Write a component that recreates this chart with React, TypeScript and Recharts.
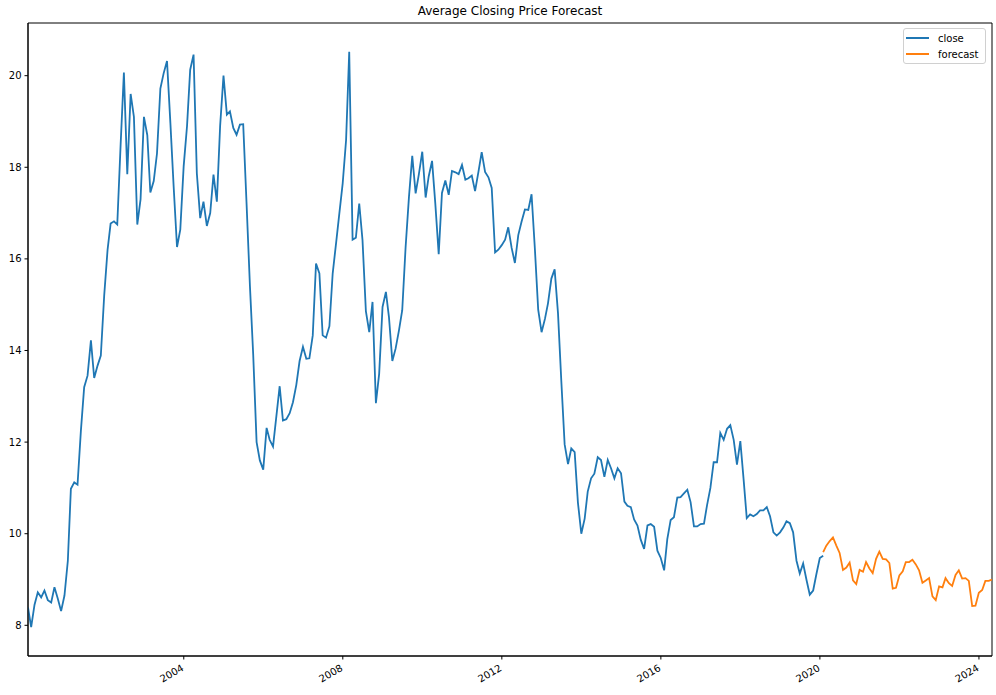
import React from "react";
import {
  LineChart,
  Line,
  XAxis,
  YAxis,
  ReferenceArea,
} from "recharts";

// monthly averages, first point is Jan 2000 (month end)
const START_YEAR = 2000;

const closeValues = [
  8.39, 7.96, 8.45, 8.72, 8.61, 8.76, 8.55, 8.5, 8.83, 8.58, 8.31, 8.65,
  9.41, 10.98, 11.12, 11.07, 12.25, 13.2, 13.45, 14.22, 13.4, 13.67, 13.89, 15.2,
  16.2, 16.77, 16.82, 16.75, 18.5, 20.07, 17.85, 19.6, 19.1, 16.75, 17.3, 19.1,
  18.7, 17.45, 17.7, 18.3, 19.72, 20.05, 20.32, 18.97, 17.58, 16.26, 16.64, 18.02,
  18.9, 20.13, 20.46, 17.87, 16.89, 17.25, 16.72, 17.0, 17.84, 17.25, 18.9, 20.0,
  19.15, 19.22, 18.86, 18.71, 18.93, 18.94, 17.2, 15.4, 13.9, 12.0, 11.6, 11.4,
  12.31, 12.05, 11.9, 12.55, 13.22, 12.47, 12.5, 12.63, 12.87, 13.25, 13.77, 14.08,
  13.82, 13.83, 14.33, 15.9, 15.68, 14.33, 14.28, 14.53, 15.68, 16.34, 16.99, 17.65,
  18.59, 20.52, 16.42, 16.46, 17.21, 16.41, 14.86, 14.4, 15.06, 12.85, 13.49, 14.95,
  15.28, 14.73, 13.77, 14.04, 14.44, 14.88, 16.26, 17.36, 18.25, 17.43, 17.85, 18.34,
  17.34, 17.8, 18.14, 17.2, 16.1, 17.44, 17.71, 17.4, 17.92, 17.89, 17.85, 18.05,
  17.73, 17.76, 17.82, 17.48, 17.9, 18.33, 17.9, 17.78, 17.55, 16.14, 16.2, 16.3,
  16.42, 16.69, 16.24, 15.91, 16.52, 16.81, 17.08, 17.07, 17.41, 16.2, 14.89, 14.4,
  14.69, 15.03, 15.57, 15.77, 14.81, 13.35, 11.95, 11.52, 11.86, 11.78, 10.68, 10.0,
  10.33, 10.92, 11.21, 11.31, 11.67, 11.61, 11.24, 11.61, 11.43, 11.21, 11.43, 11.32,
  10.7, 10.61, 10.58, 10.31, 10.18, 9.87, 9.67, 10.18, 10.21, 10.15, 9.63, 9.47,
  9.2, 9.88, 10.3, 10.36, 10.79, 10.8, 10.88, 10.96, 10.69, 10.16, 10.16, 10.21,
  10.22, 10.62, 11.0, 11.56, 11.56, 12.2, 12.05, 12.29, 12.37, 12.05, 11.51, 12.02,
  11.16, 10.34, 10.42, 10.38, 10.43, 10.51, 10.51, 10.58, 10.38, 10.03, 9.96, 10.03,
  10.14, 10.27, 10.23, 10.03, 9.41, 9.13, 9.35, 8.99, 8.67, 8.76, 9.12, 9.47,
  9.52,
];

// forecast starts at the last close month (Jan 2020)
const forecastValues = [
  9.6, 9.74, 9.84, 9.92, 9.74, 9.58, 9.21, 9.26, 9.37, 8.98, 8.9, 9.21,
  9.17, 9.38, 9.24, 9.14, 9.45, 9.61, 9.45, 9.44, 9.36, 8.8, 8.82, 9.09,
  9.18, 9.38, 9.38, 9.43, 9.33, 9.2, 8.93, 8.98, 9.03, 8.63, 8.55, 8.85,
  8.83, 9.03, 8.92, 8.86, 9.1, 9.2, 9.02, 9.03, 8.97, 8.42, 8.43, 8.71,
  8.77, 8.97, 8.97, 9.0,
];

const tickYears = [2004, 2008, 2012, 2016, 2020, 2024];
const yTicks = [8, 10, 12, 14, 16, 18, 20];

const monthEnd = (i: number) => Date.UTC(START_YEAR, i + 1, 0);
const forecastOffset = closeValues.length - 1;
const total = forecastOffset + forecastValues.length;

const data: { t: number; close?: number; forecast?: number }[] = [];
for (let i = 0; i < total; i++) {
  const row: { t: number; close?: number; forecast?: number } = { t: monthEnd(i) };
  if (i < closeValues.length) row.close = closeValues[i];
  if (i >= forecastOffset) row.forecast = forecastValues[i - forecastOffset];
  data.push(row);
}

const xMin = monthEnd(0);
const xMax = monthEnd(total - 1);
const xTicks = tickYears.map((y) => Date.UTC(y, 0, 1));
const yDomain: [number, number] = [7.33, 21.15];

const FONT = "DejaVu Sans, sans-serif";

function XTick(props: any) {
  const { x, y, payload } = props;
  const year = new Date(payload.value).getUTCFullYear();
  return (
    <g transform={`translate(${x - 3},${y + 1}) rotate(-30)`}>
      <text
        x={0}
        y={0}
        dy="0.75em"
        textAnchor="end"
        fontSize={10}
        fontFamily={FONT}
        fill="#000"
      >
        {year}
      </text>
    </g>
  );
}

function YTick(props: any) {
  const { x, y, payload } = props;
  return (
    <text
      x={x}
      y={y}
      dy="0.36em"
      textAnchor="end"
      fontSize={10}
      fontFamily={FONT}
      fill="#000"
    >
      {payload.value}
    </text>
  );
}

export default function App() {
  return (
    <div
      style={{
        position: "absolute",
        left: 0,
        top: 0,
        width: 996,
        height: 695,
        background: "#fff",
        fontFamily: FONT,
      }}
    >
      <div
        style={{
          position: "absolute",
          left: 28,
          top: 4,
          width: 964,
          textAlign: "center",
          fontSize: 12,
          lineHeight: "14px",
          color: "#000",
        }}
      >
        Average Closing Price Forecast
      </div>
      <LineChart
        width={996}
        height={695}
        data={data}
        margin={{ top: 23, right: 4, left: 0, bottom: 0 }}
      >
        <XAxis
          dataKey="t"
          type="number"
          scale="time"
          domain={[xMin, xMax]}
          ticks={xTicks}
          allowDataOverflow
          height={39}
          stroke="#000"
          tickSize={3.5}
          tickMargin={3}
          tick={<XTick />}
          interval={0}
        />
        <YAxis
          type="number"
          domain={yDomain}
          ticks={yTicks}
          allowDataOverflow
          width={28}
          stroke="#000"
          tickSize={3.5}
          tickMargin={3}
          tick={<YTick />}
          interval={0}
        />
        <ReferenceArea
          x1={xMin}
          x2={xMax}
          y1={yDomain[0]}
          y2={yDomain[1]}
          fill="none"
          stroke="#000"
          strokeWidth={1}
          ifOverflow="visible"
        />
        <Line
          type="linear"
          dataKey="close"
          stroke="#1f77b4"
          strokeWidth={1.8}
          dot={false}
          isAnimationActive={false}
        />
        <Line
          type="linear"
          dataKey="forecast"
          stroke="#ff7f0e"
          strokeWidth={1.8}
          dot={false}
          isAnimationActive={false}
        />
      </LineChart>
      <div
        style={{
          position: "absolute",
          left: 903,
          top: 28,
          width: 81,
          height: 34,
          border: "1px solid #d0d0d0",
          borderRadius: 3,
          background: "rgba(255,255,255,0.8)",
          fontSize: 10,
          color: "#000",
        }}
      >
        {[
          { name: "close", color: "#1f77b4" },
          { name: "forecast", color: "#ff7f0e" },
        ].map((s, k) => (
          <div
            key={s.name}
            style={{
              position: "absolute",
              left: 2,
              top: 2 + k * 16,
              height: 14,
              display: "flex",
              alignItems: "center",
            }}
          >
            <span
              style={{
                display: "inline-block",
                width: 23,
                height: 0,
                borderTop: `2px solid ${s.color}`,
                marginRight: 9,
              }}
            />
            <span>{s.name}</span>
          </div>
        ))}
      </div>
    </div>
  );
}
